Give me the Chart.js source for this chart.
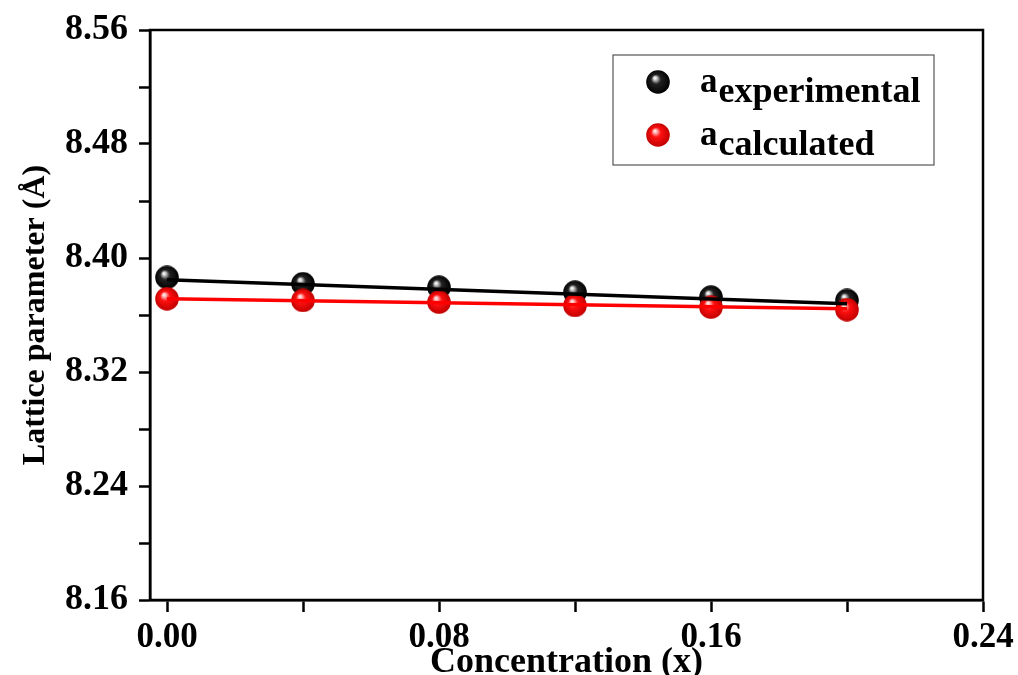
<!DOCTYPE html>
<html>
<head>
<meta charset="utf-8">
<script src="https://cdn.jsdelivr.net/npm/chart.js@4.4.0/dist/chart.umd.min.js"></script>
<style>
  body { margin: 0; background: #fff; }
  #wrap { width: 1018px; height: 675px; }
</style>
</head>
<body>
<div id="wrap"><canvas id="myChart"></canvas></div>
<script>
// concentration x
var conc = [0.00, 0.04, 0.08, 0.12, 0.16, 0.20];
// lattice parameter (Å)
var aExperimental = [8.3864, 8.3819, 8.3795, 8.3760, 8.3725, 8.3702];
var aCalculated = [8.3714, 8.3702, 8.3690, 8.3667, 8.3655, 8.3637];
// linear fit end points
var fitX = [0.00, 0.20];
var fitExperimental = [8.3847, 8.3679];
var fitCalculated = [8.3714, 8.3644];
var xTicks = [0.00, 0.04, 0.08, 0.12, 0.16, 0.20, 0.24];
var yTicks = [8.16, 8.20, 8.24, 8.28, 8.32, 8.36, 8.40, 8.44, 8.48, 8.52, 8.56];

var FONT = "'Liberation Serif', 'Times New Roman', serif";

function makeBall(light, mid, dark) {
  var c = document.createElement('canvas');
  c.width = 24; c.height = 24;
  var g = c.getContext('2d');
  var grad = g.createRadialGradient(9, 8, 1, 12, 12, 12);
  grad.addColorStop(0, light);
  grad.addColorStop(0.35, mid);
  grad.addColorStop(1, dark);
  g.fillStyle = grad;
  g.beginPath();
  g.arc(12, 12, 11.8, 0, Math.PI * 2);
  g.fill();
  return c;
}
var blackBall = makeBall('#f2f2f2', '#222', '#000');
var redBall = makeBall('#ffe0e0', '#ff1010', '#c00000');

function pts(xs, ys) {
  return xs.map(function (x, i) { return { x: x, y: ys[i] }; });
}

var framePlugin = {
  id: 'frame',
  afterDraw: function (chart) {
    var a = chart.chartArea, ctx = chart.ctx;
    ctx.save();
    ctx.strokeStyle = '#000';
    ctx.lineWidth = 2.5;
    ctx.strokeRect(a.left, a.top, a.right - a.left, a.bottom - a.top);
    ctx.restore();
  }
};

var legendPlugin = {
  id: 'subLegend',
  afterDraw: function (chart) {
    var ctx = chart.ctx;
    var items = chart.data.datasets.filter(function (d) { return d.sub; });
    items.sort(function (p, q) { return p.legendRank - q.legendRank; });
    ctx.save();
    ctx.fillStyle = '#fff';
    ctx.strokeStyle = '#555';
    ctx.lineWidth = 1.2;
    ctx.fillRect(613, 55, 321, 110);
    ctx.strokeRect(613, 55, 321, 110);
    items.forEach(function (d, i) {
      var y = 82 + i * 53;
      ctx.drawImage(d.pointStyle, 658 - 12, y - 12);
      ctx.fillStyle = '#000';
      ctx.textBaseline = 'alphabetic';
      ctx.font = 'bold 35px ' + FONT;
      ctx.fillText(d.label, 700, y + 10);
      var w = ctx.measureText(d.label).width;
      ctx.font = 'bold 36px ' + FONT;
      ctx.fillText(d.sub, 700 + w + 1, y + 20);
    });
    ctx.restore();
  }
};

function fmt(v) {
  return Math.round(v * 100) % 8 === 0 ? v.toFixed(2) : '';
}

new Chart(document.getElementById('myChart'), {
  type: 'scatter',
  data: {
    datasets: [
      { type: 'line', data: pts(fitX, fitExperimental), borderColor: '#000', borderWidth: 3.5, pointRadius: 0, fill: false },
      { type: 'line', data: pts(fitX, fitCalculated), borderColor: '#ff0000', borderWidth: 3.5, pointRadius: 0, fill: false },
      { label: 'a', sub: 'calculated', legendRank: 1, data: pts(conc, aCalculated), pointStyle: redBall, pointRadius: 12 },
      { label: 'a', sub: 'experimental', legendRank: 0, data: pts(conc, aExperimental), pointStyle: blackBall, pointRadius: 12 }
    ]
  },
  options: {
    responsive: true,
    maintainAspectRatio: false,
    animation: false,
    layout: { padding: { left: 20, right: 35, top: 30, bottom: 0 } },
    plugins: { legend: { display: false }, tooltip: { enabled: false } },
    scales: {
      x: {
        type: 'linear',
        min: -0.005,
        max: 0.24,
        afterBuildTicks: function (s) { s.ticks = xTicks.map(function (v) { return { value: v }; }); },
        afterFit: function (s) { s.paddingRight = 0; s.paddingLeft = 0; },
        border: { display: true, color: '#000', width: 2.5 },
        grid: { drawOnChartArea: false, drawTicks: true, tickLength: 12, tickColor: '#000', tickWidth: 2.5 },
        ticks: {
          autoSkip: false, maxRotation: 0, padding: 8, color: '#000',
          font: { family: FONT, size: 35, weight: 'bold', lineHeight: 1 },
          callback: fmt
        },
        title: {
          display: true, text: 'Concentration (x)', color: '#000',
          font: { family: FONT, size: 36, weight: 'bold', lineHeight: 1 },
          padding: { top: -18, bottom: -6 }
        }
      },
      y: {
        min: 8.16,
        max: 8.56,
        afterBuildTicks: function (s) { s.ticks = yTicks.map(function (v) { return { value: v }; }); },
        border: { display: true, color: '#000', width: 2.5 },
        grid: { drawOnChartArea: false, drawTicks: true, tickLength: 11, tickColor: '#000', tickWidth: 2.5 },
        ticks: {
          autoSkip: false, padding: 11, color: '#000',
          font: { family: FONT, size: 36, weight: 'bold', lineHeight: 1 },
          callback: fmt
        },
        title: {
          display: true, text: 'Lattice parameter (Å)', color: '#000',
          font: { family: FONT, size: 32, weight: 'bold', lineHeight: 1 },
          padding: { top: 0, bottom: 2 }
        }
      }
    }
  },
  plugins: [framePlugin, legendPlugin]
});
</script>
</body>
</html>
